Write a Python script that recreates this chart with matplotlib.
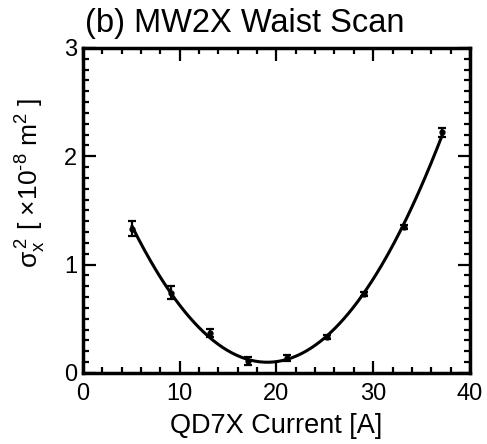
import numpy as np
import matplotlib
matplotlib.use('Agg')
import matplotlib.pyplot as plt
from matplotlib.ticker import MultipleLocator

plt.rcParams['font.family'] = ['Liberation Sans', 'DejaVu Sans']
plt.rcParams['mathtext.fontset'] = 'custom'
plt.rcParams['mathtext.rm'] = 'Liberation Sans'
plt.rcParams['mathtext.it'] = 'Liberation Sans'

# data
current = [5.1, 9.1, 13.1, 17.1, 21.1, 25.2, 29.1, 33.2, 37.1]
sigma2 = [1.33, 0.74, 0.37, 0.11, 0.14, 0.33, 0.73, 1.35, 2.22]
err = [0.07, 0.06, 0.04, 0.04, 0.03, 0.02, 0.02, 0.02, 0.04]

# parabola fit through the measured points
coef = np.polyfit(current, sigma2, 2)
xfit = np.linspace(min(current), max(current), 200)
yfit = np.polyval(coef, xfit)

fig = plt.figure(figsize=(4.87, 4.44), dpi=100)
ax = fig.add_axes([0.170, 0.160, 0.795, 0.732])

ax.plot(xfit, yfit, color='black', lw=2.2)
ax.errorbar(current, sigma2, yerr=err, fmt='o', color='black', ms=3.5,
            elinewidth=1.6, capsize=3, capthick=1.6)

ax.set_xlim(0, 40)
ax.set_ylim(0, 3)
ax.xaxis.set_major_locator(MultipleLocator(10))
ax.xaxis.set_minor_locator(MultipleLocator(2))
ax.yaxis.set_major_locator(MultipleLocator(1))
ax.yaxis.set_minor_locator(MultipleLocator(0.1))
ax.tick_params(which='both', direction='in', top=True, right=True, width=1.6,
               labelsize=17)
ax.tick_params(which='major', length=9)
ax.tick_params(which='minor', length=4.5)
ax.tick_params(axis='x', pad=7)
ax.tick_params(axis='y', pad=4)
for s in ax.spines.values():
    s.set_linewidth(2.5)

ax.set_xlabel('QD7X Current [A]', fontsize=19.5, labelpad=6)
ax.set_ylabel(r'$\sigma_x^{\,2}$ [ ×10$^{\mathrm{‐}8}$ m$^2$ ]', fontsize=19)
ax.yaxis.set_label_coords(-0.09, 0.585)
fig.text(0.175, 0.928, '(b) MW2X Waist Scan', fontsize=23.5, va='baseline')

fig.savefig('out.png', dpi=100)
